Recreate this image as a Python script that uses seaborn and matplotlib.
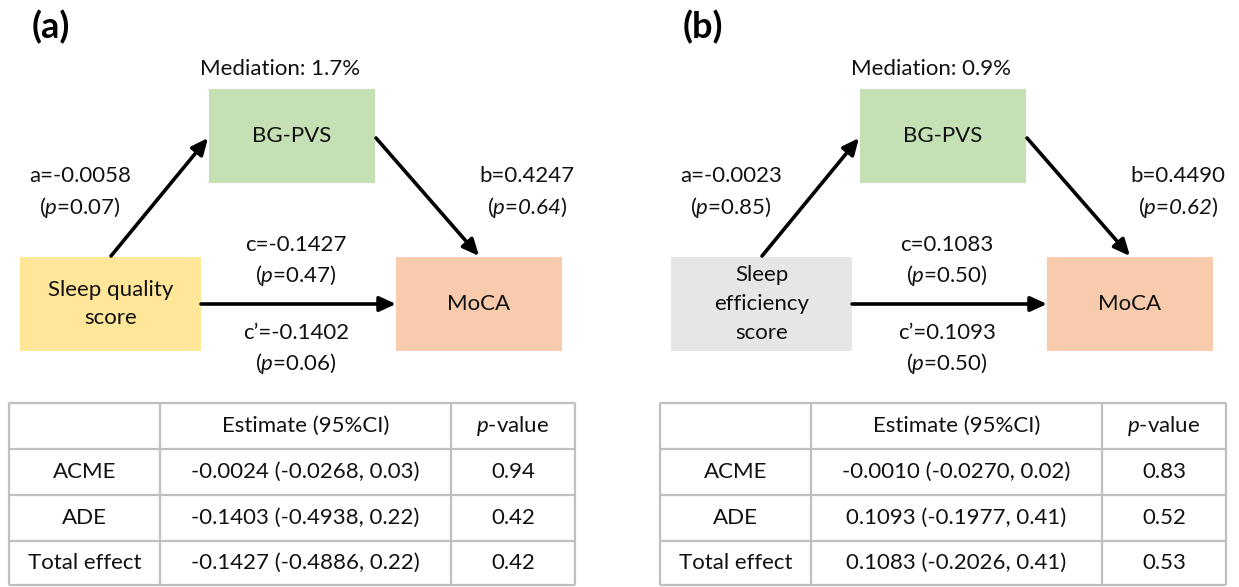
# Mediation diagrams (a: sleep quality, b: sleep efficiency) with effect tables

import matplotlib.pyplot as plt
import matplotlib.patches as patches
import seaborn as sns

sns.set_theme(style="white")
plt.rcParams['font.family'] = ['Lato', 'DejaVu Sans']
plt.rcParams['mathtext.fontset'] = 'custom'
plt.rcParams['mathtext.rm'] = 'Lato'
plt.rcParams['mathtext.it'] = 'Lato:italic'
plt.rcParams['mathtext.sf'] = 'Lato:italic'   # used for italic digits
plt.rcParams['mathtext.bf'] = 'Lato:bold'

# Panel data
panel_tags = ['(a)', '(b)']
exposures = ['Sleep quality\nscore', 'Sleep\nefficiency\nscore']
exposure_colors = ['#ffe699', '#e7e6e6']
mediation_pct = ['1.7%', '0.9%']
a_coef = ['-0.0058', '-0.0023']
a_p = ['0.07', '0.85']
b_coef = ['0.4247', '0.4490']
b_p = ['0.64', '0.62']
c_coef = ['-0.1427', '0.1083']
c_p = ['0.47', '0.50']
cprime_coef = ['-0.1402', '0.1093']
cprime_p = ['0.06', '0.50']

# Table data
table_header = ['', 'Estimate (95%CI)', '$p$-value']
row_names = ['ACME', 'ADE', 'Total effect']
estimates = [
    ['-0.0024 (-0.0268, 0.03)', '-0.1403 (-0.4938, 0.22)', '-0.1427 (-0.4886, 0.22)'],
    ['-0.0010 (-0.0270, 0.02)', '0.1093 (-0.1977, 0.41)', '0.1083 (-0.2026, 0.41)'],
]
pvalues = [
    ['0.94', '0.42', '0.42'],
    ['0.83', '0.52', '0.53'],
]

# Layout (pixel coordinates, y downwards)
W, H = 1239, 587
PANEL_SHIFT = 651
FS = 16
INK = '#111111'
GREEN = '#c5e0b4'
SALMON = '#f8cbad'
GRID = '#bfbfbf'

fig = plt.figure(figsize=(W / 100, H / 100), dpi=100)
ax = fig.add_axes([0, 0, 1, 1])
ax.set_xlim(0, W)
ax.set_ylim(H, 0)
ax.axis('off')


def box(x, y, w, h, color, label):
    ax.add_patch(patches.Rectangle((x, y), w, h, facecolor=color, edgecolor='none'))
    ax.text(x + w / 2, y + h / 2, label, ha='center', va='center', fontsize=FS,
            linespacing=1.55, color=INK)


def arrow(start, end):
    ax.annotate('', xy=end, xytext=start,
                arrowprops=dict(arrowstyle='-|>,head_length=0.7,head_width=0.32',
                                lw=2.6, color='black', mutation_scale=14,
                                shrinkA=0, shrinkB=0))


def label(x, y, top, p, italic_value=False):
    ax.text(x, y, top, ha='center', va='center', fontsize=FS, color=INK)
    if italic_value:
        line = r'($p$=$\mathsf{%s}$)' % p
    else:
        line = '($p$=' + p + ')'
    ax.text(x, y + 31, line, ha='center', va='center', fontsize=FS, color=INK)


for i in range(2):
    dx = i * PANEL_SHIFT
    ax.text(32 + dx, 27, panel_tags[i], ha='left', va='center', fontsize=26,
            fontweight='bold', color='black')
    ax.text(280 + dx, 69, 'Mediation: ' + mediation_pct[i], ha='center', va='center',
            fontsize=FS, color=INK)

    box(209 + dx, 89, 166, 94, GREEN, 'BG-PVS')
    box(20 + dx, 257, 181, 94, exposure_colors[i], exposures[i])
    box(396 + dx, 257, 166, 94, SALMON, 'MoCA')

    arrow((111 + dx, 256), (208 + dx, 138))
    arrow((376 + dx, 138), (479 + dx, 256))
    arrow((201 + dx, 304), (396 + dx, 304))

    label(80 + dx, 176, 'a=' + a_coef[i], a_p[i])
    label(527 + dx, 176, 'b=' + b_coef[i], b_p[i], italic_value=True)
    label(296 + dx, 245, 'c=' + c_coef[i], c_p[i])
    label(296 + dx, 333, 'c\u2019=' + cprime_coef[i], cprime_p[i])

    # table
    xs = [9 + dx, 160 + dx, 451 + dx, 575 + dx]
    ys = [403, 449, 495, 541, 585]
    ax.hlines(ys, xs[0], xs[-1], color=GRID, lw=1.6)
    ax.vlines(xs, ys[0], ys[-1], color=GRID, lw=1.6)
    rows = [table_header] + [[row_names[r], estimates[i][r], pvalues[i][r]] for r in range(3)]
    for r, cells in enumerate(rows):
        yc = (ys[r] + ys[r + 1]) / 2
        for c, txt in enumerate(cells):
            xc = (xs[c] + xs[c + 1]) / 2
            ax.text(xc, yc, txt, ha='center', va='center', fontsize=FS, color=INK)

fig.savefig('out.png', dpi=100)
